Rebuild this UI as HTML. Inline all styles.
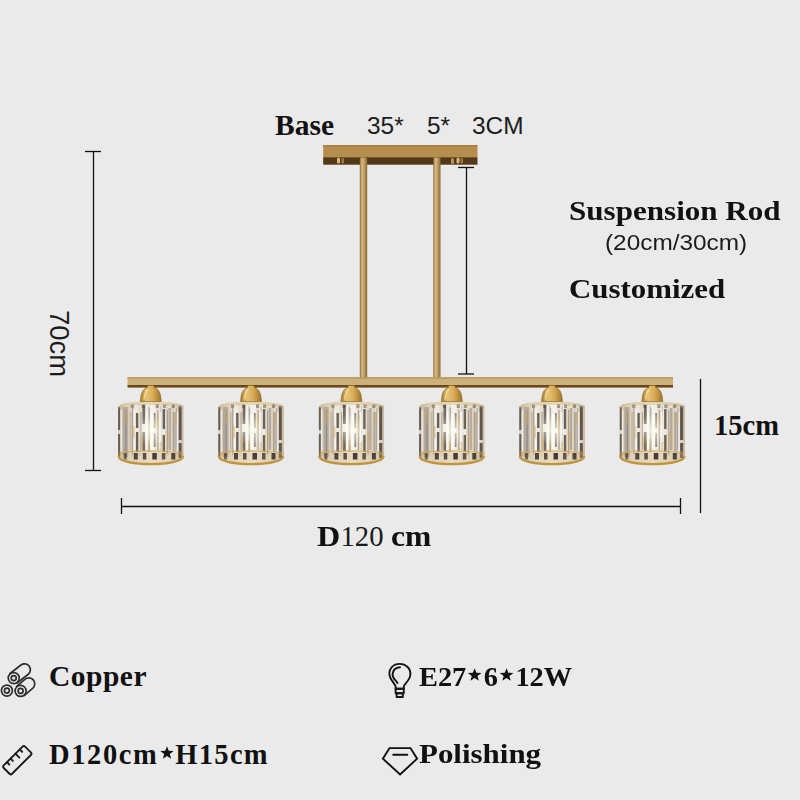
<!DOCTYPE html>
<html><head><meta charset="utf-8">
<style>
html,body{margin:0;padding:0}
body{width:800px;height:800px;background:#eaeaea;position:relative;overflow:hidden}
.t{position:absolute;white-space:nowrap;line-height:1;color:#111}
.sr{font-family:"Liberation Serif",serif;font-weight:bold}
.sn{font-family:"Liberation Sans",sans-serif;font-weight:normal;color:#1c1c1c}
svg.main{position:absolute;left:0;top:0}
.st{display:inline-block;vertical-align:5px;margin:0 1.5px}
</style></head><body>
<svg class="main" width="800" height="800" viewBox="0 0 800 800">
 <defs>
  <linearGradient id="bar" x1="0" y1="0" x2="0" y2="1">
   <stop offset="0" stop-color="#c9a664"/><stop offset="0.6" stop-color="#c39d57"/><stop offset="1" stop-color="#8c6a34"/>
  </linearGradient>
  <linearGradient id="rod" x1="0" y1="0" x2="1" y2="0">
   <stop offset="0" stop-color="#8c6a38"/><stop offset="0.3" stop-color="#d8bc80"/><stop offset="0.55" stop-color="#c4a262"/><stop offset="1" stop-color="#8a6a3a"/>
  </linearGradient>
  <radialGradient id="cap" cx="0.45" cy="0.45" r="0.6">
   <stop offset="0" stop-color="#f3d58c"/><stop offset="0.6" stop-color="#d1a245"/><stop offset="1" stop-color="#9c7330"/>
  </radialGradient>
<!--LAMPDEFS--><clipPath id="shc"><path d="M-33,406.8 C-32,399.3 32,399.3 33,406.8 L33,457 C33,467.5 -33,467.5 -33,457 Z"/></clipPath><filter id="soft" x="-10%" y="-10%" width="120%" height="120%"><feGaussianBlur stdDeviation="0.7"/></filter>
<linearGradient id="shbg" x1="0" y1="0" x2="1" y2="0">
<stop offset="0" stop-color="#d2cdc6"/><stop offset="0.2" stop-color="#e8e5df"/><stop offset="0.5" stop-color="#f4f1ea"/><stop offset="0.8" stop-color="#e8e5df"/><stop offset="1" stop-color="#cdc7be"/></linearGradient>
<radialGradient id="glow"><stop offset="0" stop-color="#fffcf0" stop-opacity="0.8"/><stop offset="1" stop-color="#fffcf0" stop-opacity="0"/></radialGradient>
<linearGradient id="capg" x1="0" y1="0" x2="1" y2="0"><stop offset="0" stop-color="#a87a2c"/><stop offset="0.3" stop-color="#e6c276"/><stop offset="0.6" stop-color="#d9ac55"/><stop offset="1" stop-color="#9c7228"/></linearGradient>
<g id="lamp" filter="url(#soft)"><g clip-path="url(#shc)"><rect x="-33" y="397.8" width="66" height="69.19999999999999" fill="url(#shbg)"/><rect x="-30.3" y="404" width="2.3" height="52.0" fill="#c9a25a" opacity="0.24499999999999997"/><rect x="-22.6" y="406" width="5.6" height="46.0" fill="#c9a25a" opacity="0.21"/><rect x="-12.5" y="404" width="3.5" height="52.0" fill="#c9a25a" opacity="0.175"/><rect x="5" y="404" width="3.5" height="46.0" fill="#c9a25a" opacity="0.196"/><rect x="14.2" y="404" width="3.5" height="52.0" fill="#c9a25a" opacity="0.21"/><rect x="19.5" y="406" width="4.0" height="44.0" fill="#c9a25a" opacity="0.24499999999999997"/><rect x="30.8" y="406" width="1.9" height="50.0" fill="#c9a25a" opacity="0.27999999999999997"/><rect x="-28" y="407" width="5.4" height="50.0" fill="#756a5e" opacity="0.425"/><rect x="-21" y="412" width="1.5" height="38.0" fill="#756a5e" opacity="0.2975"/><rect x="17.7" y="408" width="2.3" height="42.0" fill="#756a5e" opacity="0.4675"/><rect x="23" y="412" width="2.5" height="40.0" fill="#756a5e" opacity="0.2975"/><rect x="-3" y="406" width="2.0" height="46.0" fill="#756a5e" opacity="0.255"/><rect x="-25.5" y="410" width="1.2" height="42.0" fill="#6a6058" opacity="0.45"/><rect x="-19" y="408" width="1.2" height="47.0" fill="#6a6058" opacity="0.4"/><rect x="-10.5" y="412" width="1.2" height="38.0" fill="#6a6058" opacity="0.45"/><rect x="-2" y="408" width="1.2" height="44.0" fill="#6a6058" opacity="0.35"/><rect x="6.5" y="410" width="1.2" height="40.0" fill="#6a6058" opacity="0.45"/><rect x="9.5" y="406" width="1.2" height="40.0" fill="#6a6058" opacity="0.3"/><rect x="16" y="410" width="1.2" height="44.0" fill="#6a6058" opacity="0.45"/><rect x="22" y="412" width="1.2" height="40.0" fill="#6a6058" opacity="0.4"/><rect x="25" y="408" width="1.2" height="42.0" fill="#6a6058" opacity="0.35"/><rect x="-32.7" y="407" width="2.1" height="23.0" fill="#4a4038" opacity="0.8"/><rect x="-32.7" y="434" width="2.1" height="24.0" fill="#4a4038" opacity="0.8"/><rect x="-14.9" y="413" width="2.4" height="15.0" fill="#4a4038" opacity="0.8"/><rect x="-14.9" y="432" width="2.4" height="20.0" fill="#4a4038" opacity="0.8"/><rect x="-8.4" y="405" width="2.8" height="19.0" fill="#4a4038" opacity="0.75"/><rect x="-8.4" y="432" width="2.8" height="19.0" fill="#4a4038" opacity="0.75"/><rect x="2.9" y="413" width="1.8" height="15.0" fill="#4a4038" opacity="0.6"/><rect x="2.9" y="433" width="1.8" height="14.0" fill="#4a4038" opacity="0.6"/><rect x="11.8" y="409" width="2.4" height="20.0" fill="#4a4038" opacity="0.8"/><rect x="11.8" y="435" width="2.4" height="17.0" fill="#4a4038" opacity="0.8"/><rect x="27.8" y="406" width="3.0" height="34.0" fill="#4a4038" opacity="0.85"/><rect x="27.8" y="443" width="3.0" height="15.0" fill="#4a4038" opacity="0.85"/><rect x="-30.3" y="410" width="1.3" height="42.0" fill="#fffdf6" opacity="0.7"/><rect x="-17" y="410" width="1.5" height="40.0" fill="#fffdf6" opacity="0.6"/><rect x="-5.2" y="412" width="1.7" height="38.0" fill="#fffdf6" opacity="0.75"/><rect x="0" y="414" width="2.5" height="36.0" fill="#fffdf6" opacity="0.7"/><rect x="8.5" y="412" width="2.0" height="36.0" fill="#fffdf6" opacity="0.7"/><rect x="25.8" y="412" width="1.7" height="40.0" fill="#fffdf6" opacity="0.6"/><rect x="-26" y="410" width="2.0" height="14.0" fill="#d2a850" opacity="0.45"/><rect x="-18" y="426" width="2.0" height="12.0" fill="#d2a850" opacity="0.45"/><rect x="-10" y="436" width="2.0" height="12.0" fill="#d2a850" opacity="0.45"/><rect x="6" y="416" width="2.0" height="14.0" fill="#d2a850" opacity="0.45"/><rect x="16" y="432" width="2.0" height="14.0" fill="#d2a850" opacity="0.45"/><rect x="24" y="412" width="2.0" height="12.0" fill="#d2a850" opacity="0.45"/><rect x="-3" y="440" width="2.0" height="10.0" fill="#d2a850" opacity="0.45"/><rect x="9" y="442" width="2.0" height="8.0" fill="#d2a850" opacity="0.45"/><ellipse cx="0" cy="430" rx="13" ry="17" fill="url(#glow)"/><path d="M-33,406.8 C-32,399.3 32,399.3 33,406.8 L33,409.8 C32,403.3 -32,403.3 -33,409.8 Z" fill="#cfae6a" opacity="0.4"/><rect x="-20" y="404.5" width="3.0" height="3.5" fill="#4a3c30" opacity="0.45"/><rect x="-9" y="404.5" width="3.0" height="3.5" fill="#4a3c30" opacity="0.45"/><rect x="5" y="404.5" width="3.0" height="3.5" fill="#4a3c30" opacity="0.45"/><rect x="12" y="404.5" width="3.0" height="3.5" fill="#4a3c30" opacity="0.45"/><rect x="21" y="404.5" width="3.0" height="3.5" fill="#4a3c30" opacity="0.45"/><path d="M-33,452 C-33,449 33,449 33,452 L33,465 L-33,465 Z" fill="#c9a45e" opacity="0.3"/><rect x="-27" y="453" width="3.0" height="6.5" fill="#2a2220" opacity="0.6"/><rect x="-17" y="453" width="4.0" height="6.5" fill="#2a2220" opacity="0.8"/><rect x="-8" y="453" width="3.5" height="6.5" fill="#2a2220" opacity="0.75"/><rect x="1.5" y="453" width="4.5" height="6.5" fill="#2a2220" opacity="0.85"/><rect x="11" y="453" width="3.5" height="6.5" fill="#2a2220" opacity="0.7"/><rect x="20.5" y="453" width="4.0" height="6.5" fill="#2a2220" opacity="0.8"/></g><path d="M-32.2,456 C-32.2,466.8 32.2,466.8 32.2,456" stroke="#c2933c" stroke-width="2.2" fill="none"/><path d="M-31,454.5 C-29,450 29,450 31,454.5" stroke="#cfa553" stroke-width="1.2" fill="none" opacity="0.55"/><path d="M-3,385.5 L3,385.5 L3.6,387.8 C5.5,388.3 7.2,389.5 8.2,391.2 C9.4,393.2 10,396 10.5,401.5 L-10.5,401.5 C-10,396 -9.4,393.2 -8.2,391.2 C-7.2,389.5 -5.5,388.3 -3.6,387.8 Z" fill="url(#capg)" stroke="#85601f" stroke-width="0.6"/><path d="M-2.8,389.5 C-5,390.8 -6.2,393.5 -6.6,399.5" stroke="#f8e0a0" stroke-width="1.6" fill="none" opacity="0.75"/></g><!--/LAMPDEFS-->
 </defs>
 <!-- dimension lines -->
 <g stroke="#111" stroke-width="1.3" fill="none">
  <line x1="93.5" y1="151" x2="93.5" y2="471"/>
  <line x1="85" y1="151.5" x2="101" y2="151.5"/>
  <line x1="85" y1="470.5" x2="101" y2="470.5"/>
  <line x1="121.5" y1="498" x2="121.5" y2="514"/>
  <line x1="121" y1="506.5" x2="681" y2="506.5"/>
  <line x1="680.5" y1="498" x2="680.5" y2="514"/>
  <line x1="700.5" y1="379" x2="700.5" y2="513"/>
  <line x1="466.5" y1="167.5" x2="466.5" y2="374"/>
  <line x1="458" y1="167.5" x2="474" y2="167.5"/>
  <line x1="458" y1="374" x2="474" y2="374"/>
 </g>
 <!-- base -->
 <rect x="323.2" y="145" width="154.3" height="12.3" fill="#b58e4e"/>
 <rect x="323.2" y="145" width="154.3" height="1.5" fill="#a57e40"/>
 <rect x="323.2" y="157.2" width="154.3" height="7.5" fill="#553816"/>
 <g fill="#d9bb7a">
  <rect x="337" y="157.5" width="3" height="6" rx="1.5"/><rect x="341.5" y="158" width="2.5" height="5.5" rx="1.2" fill="#9c7a42"/>
  <rect x="451" y="158" width="3" height="6" rx="1.5" fill="#b4925a"/><rect x="456.5" y="157.5" width="3" height="6" rx="1.5"/><rect x="460.5" y="158" width="2.5" height="5.5" rx="1.2" fill="#9c7a42"/>
 </g>
 <!-- rods -->
 <rect x="359.8" y="157.5" width="7.4" height="220" fill="url(#rod)"/>
 <rect x="433.3" y="157.5" width="7.2" height="220" fill="url(#rod)"/>
 <!-- bar -->
 <rect x="127.5" y="377.3" width="545.5" height="7.8" fill="#ccb27a"/>
 <rect x="127.5" y="377.3" width="545.5" height="1.4" fill="#b39458"/>
 <rect x="127.5" y="385" width="545.5" height="2.6" fill="#6a4819"/>
 <!--ICONS--><g stroke="#2e2e2e" stroke-width="1.7" fill="#eaeaea"><path d="M17.39,682.74 L28.24,674.24 A5.9,5.9 0 0 0 20.96,664.96 L10.11,673.46 Z"/><circle cx="13.75" cy="678.1" r="5.5"/><circle cx="13.75" cy="678.1" r="2.5"/><path d="M24.47,695.35 L32.87,688.05 A5.9,5.9 0 0 0 25.13,679.15 L16.73,686.45 Z"/><circle cx="20.6" cy="690.9" r="5.5"/><circle cx="20.6" cy="690.9" r="2.5"/><circle cx="6.9" cy="690.6" r="5.5"/><circle cx="6.9" cy="690.6" r="2.5"/></g><g transform="translate(17.3,760.2) rotate(-45)" stroke="#1c1c1c" stroke-width="1.9" fill="none" stroke-linecap="round"><rect x="-15.1" y="-5.9" width="30.2" height="11.8" rx="1.8"/><line x1="-8.7" y1="-5.9" x2="-8.7" y2="-2.6"/><line x1="-3.6" y1="-5.9" x2="-3.6" y2="-2.6"/><line x1="3.3" y1="-5.9" x2="3.3" y2="-0.4"/><line x1="9.4" y1="-5.9" x2="9.4" y2="-2.6"/></g><g stroke="#151515" stroke-width="1.9" fill="none" stroke-linejoin="round"><path d="M395.6,688.8 L395.6,686.5 C395.6,684 390.5,681 389.6,675.5 C388.4,668.5 393.5,663.9 399.7,663.9 C406,663.9 411,668.5 410.3,675 C409.7,681 403.8,684 403.8,686.5 L403.8,688.8 Z"/><rect x="395.6" y="688.8" width="8.2" height="4.4"/><rect x="396.6" y="693.2" width="6.2" height="3.8"/><path d="M400,667.2 C395,667.5 392.8,671 392.6,674.5 C392.4,678.5 396,680.5 397.5,683" stroke-linecap="round"/></g><g stroke="#111" stroke-width="1.9" fill="none" stroke-linejoin="miter"><path d="M389.5,748.1 L410.5,748.1 L417.1,758.7 L400.1,774.5 L382.9,758.7 Z"/><line x1="393.2" y1="754.8" x2="407.3" y2="754.8" stroke-linecap="round"/></g><!--/ICONS-->
 <g id="lamps"><use href="#lamp" x="150.8"/><use href="#lamp" x="251"/><use href="#lamp" x="351.4"/><use href="#lamp" x="451.8"/><use href="#lamp" x="552"/><use href="#lamp" x="652.3"/></g><!--/lamps-->
</svg>
<div class="t sr" style="left:275px;top:111px;font-size:29.5px">Base</div>
<div class="t sn" style="left:367px;top:114px;font-size:24.4px">35*</div>
<div class="t sn" style="left:427px;top:114px;font-size:24.4px">5*</div>
<div class="t sn" style="left:472px;top:114px;font-size:24.4px">3CM</div>
<div class="t sr" style="left:569px;top:197px;font-size:28px;transform-origin:0 0;transform:scaleX(1.11)">Suspension Rod</div>
<div class="t sn" style="left:605px;top:232.5px;font-size:21.5px;transform-origin:0 0;transform:scaleX(1.133)">(20cm/30cm)</div>
<div class="t sr" style="left:569px;top:276px;font-size:26.5px;transform-origin:0 0;transform:scaleX(1.165)">Customized</div>
<div class="t sr" style="left:714px;top:411.5px;font-size:28.5px">15cm</div>
<div class="t sr" style="left:316.5px;top:522px;font-size:28.7px;transform-origin:0 0;transform:scaleX(1.12)">D</div><div class="t sr" style="left:340.5px;top:522px;font-size:28.7px;font-weight:normal;color:#1a1a1a">120</div><div class="t sr" style="left:390.5px;top:522px;font-size:28.7px;transform-origin:0 0;transform:scaleX(1.1)">cm</div>
<div class="t sn" style="left:73px;top:310px;font-size:27.5px;transform-origin:0 0;transform:rotate(90deg)">70cm</div>
<div class="t sr" style="left:49px;top:662px;font-size:29.5px;letter-spacing:0.5px">Copper</div>
<div class="t sr" style="left:49px;top:741px;font-size:28.5px"><span style="letter-spacing:1.6px">D120cm</span><svg class="st" width="14" height="13" viewBox="0 0 14 13"><polygon points="7.00,0.20 8.70,4.85 13.66,5.04 9.76,8.10 11.11,12.86 7.00,10.10 2.89,12.86 4.24,8.10 0.34,5.04 5.30,4.85" fill="#111"/></svg><span style="letter-spacing:1.3px">H15cm</span></div>
<div class="t sr" style="left:419px;top:663px;font-size:27.5px;transform-origin:0 0;transform:scaleX(1.03)">E27<svg class="st" width="14" height="13" viewBox="0 0 14 13"><polygon points="7.00,0.20 8.70,4.85 13.66,5.04 9.76,8.10 11.11,12.86 7.00,10.10 2.89,12.86 4.24,8.10 0.34,5.04 5.30,4.85" fill="#111"/></svg>6<svg class="st" width="14" height="13" viewBox="0 0 14 13"><polygon points="7.00,0.20 8.70,4.85 13.66,5.04 9.76,8.10 11.11,12.86 7.00,10.10 2.89,12.86 4.24,8.10 0.34,5.04 5.30,4.85" fill="#111"/></svg>12W</div>
<div class="t sr" style="left:419px;top:740px;font-size:28px;transform-origin:0 0;transform:scaleX(1.105)">Polishing</div>
</body></html>
